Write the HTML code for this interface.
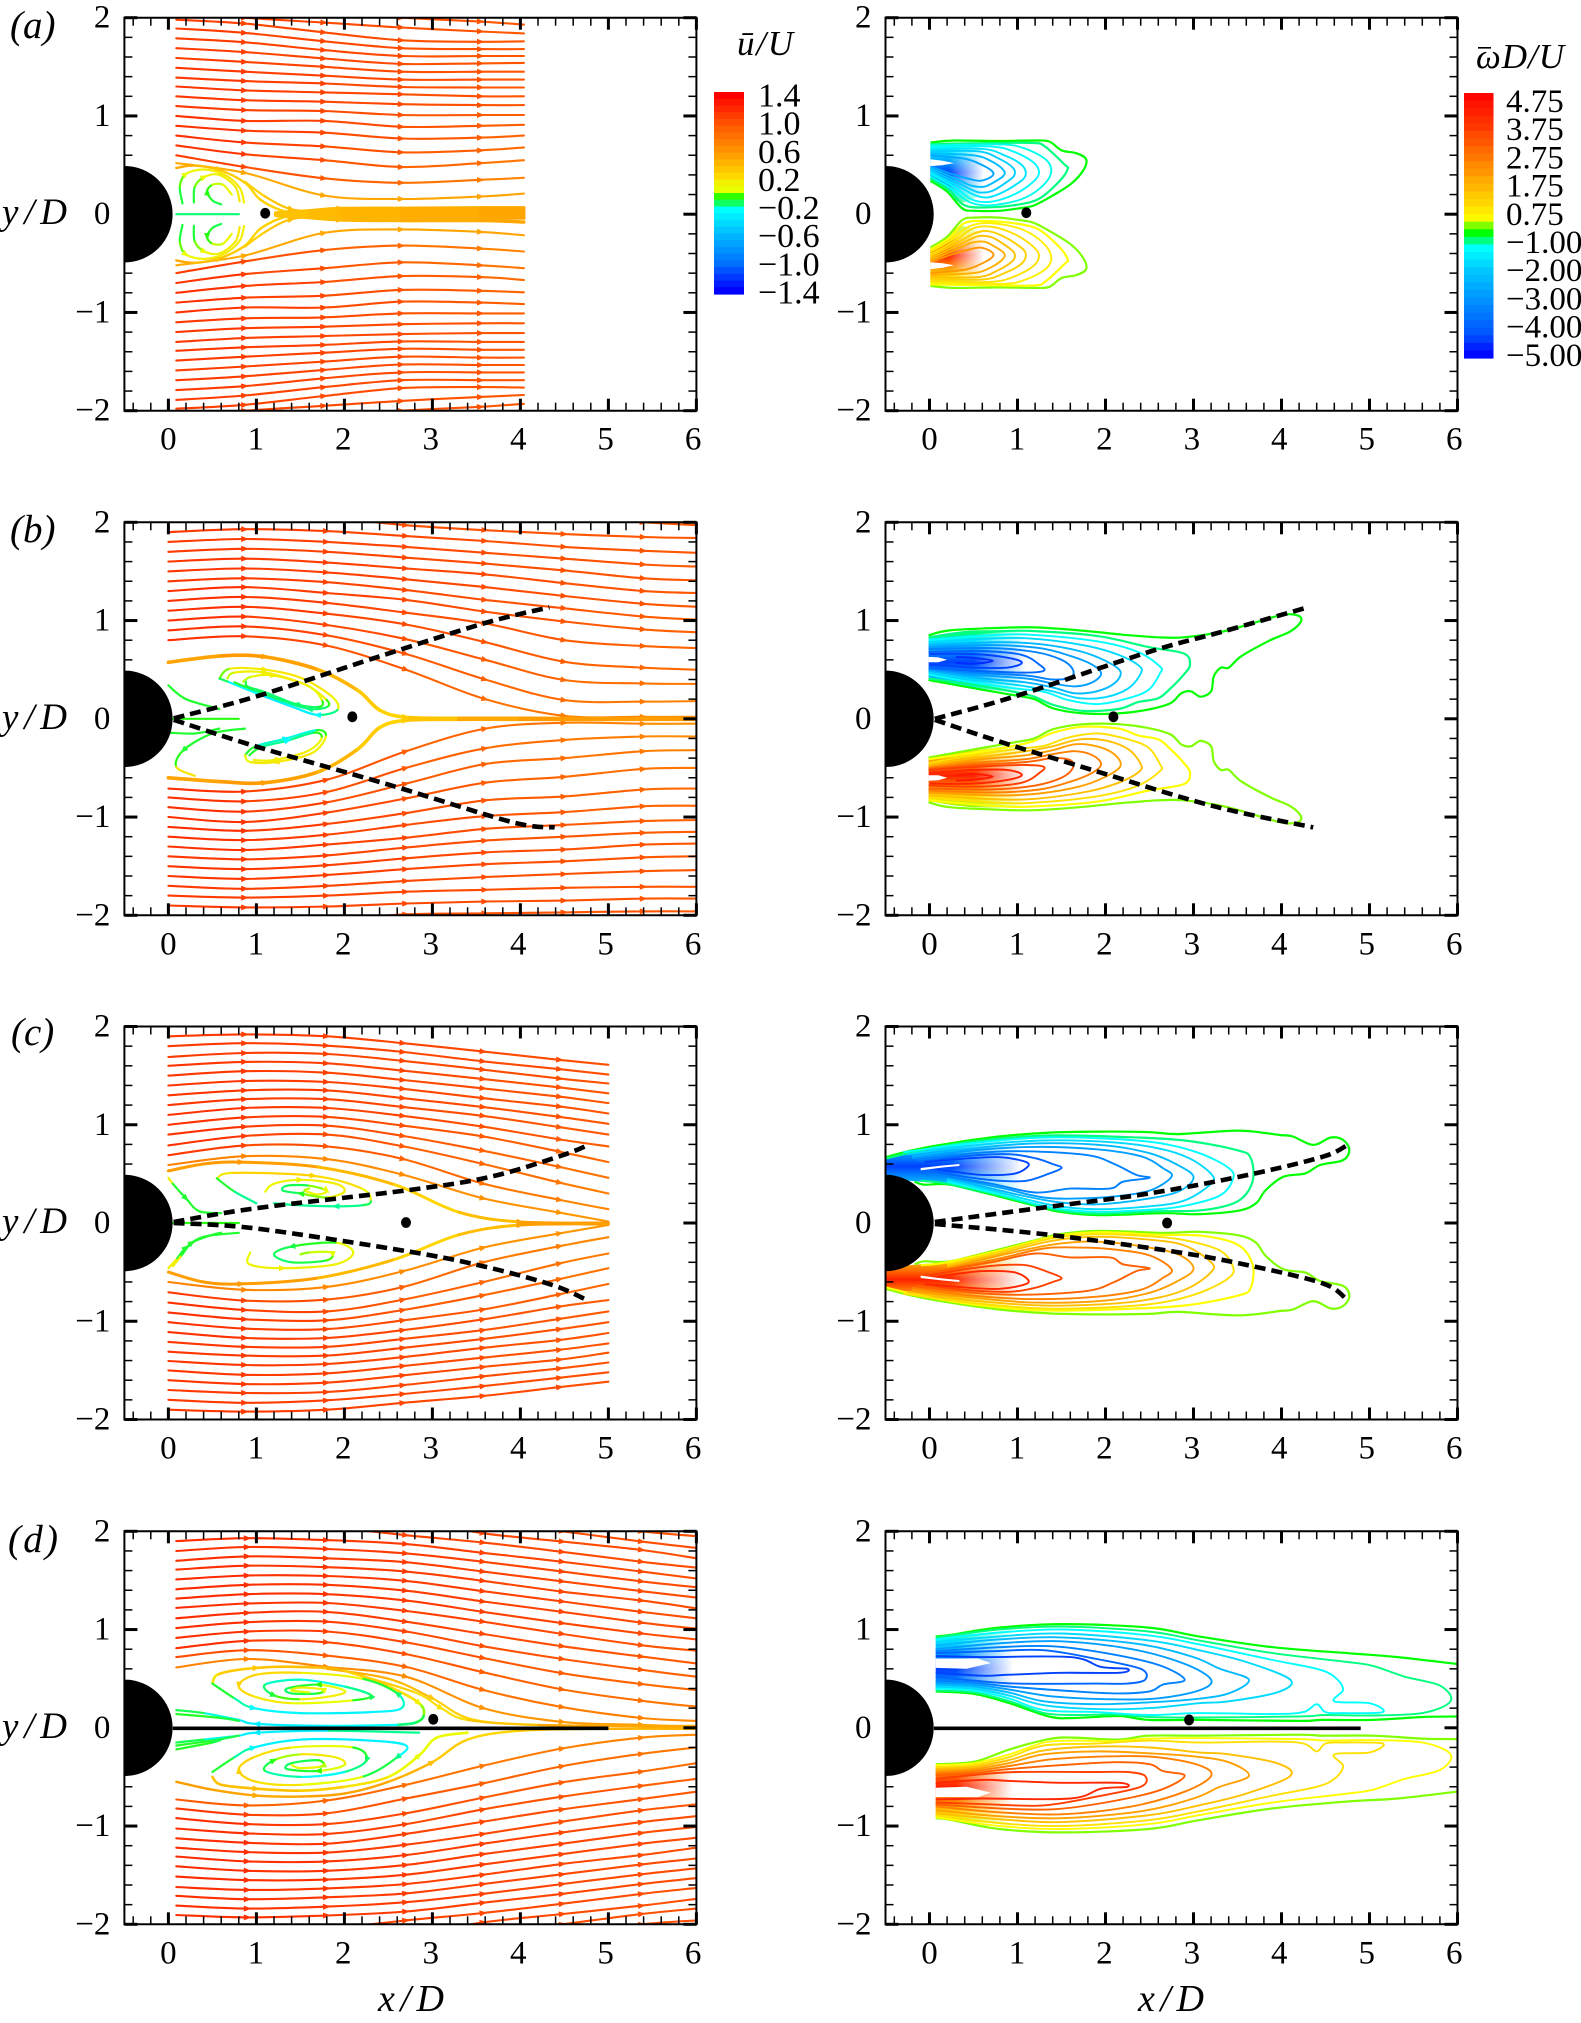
<!DOCTYPE html>
<html>
<head>
<meta charset="utf-8">
<title>Wake streamlines and vorticity contours</title>
<style>
html,body{margin:0;padding:0;background:#fff;}
svg{display:block;}
text{font-family:"Liberation Serif",serif;fill:#000;}
.it{font-style:italic;}
</style>
</head>
<body>
<svg id="fig" xmlns="http://www.w3.org/2000/svg" width="1581" height="2023" viewBox="0 0 1581 2023">
<rect x="0" y="0" width="1581" height="2023" fill="#fff"/>
<defs id="defs"></defs>
<g id="plots"></g>
<text class="it" x="10" y="38" font-size="39">(a)</text>
<text class="it" x="10" y="542" font-size="39">(b)</text>
<text class="it" x="11" y="1045" font-size="39">(c)</text>
<text class="it" x="8" y="1552" font-size="39" textLength="50" lengthAdjust="spacing">(d)</text>
<text class="it" x="2" y="224" font-size="37" textLength="65" lengthAdjust="spacing">y/D</text>
<text class="it" x="2" y="729" font-size="37" textLength="65" lengthAdjust="spacing">y/D</text>
<text class="it" x="2" y="1233" font-size="37" textLength="65" lengthAdjust="spacing">y/D</text>
<text class="it" x="2" y="1738" font-size="37" textLength="65" lengthAdjust="spacing">y/D</text>
<text class="it" x="378" y="2011" font-size="38" textLength="66" lengthAdjust="spacing">x/D</text>
<text class="it" x="1138" y="2011" font-size="38" textLength="66" lengthAdjust="spacing">x/D</text>
<text class="it" x="737" y="55" font-size="35" textLength="56" lengthAdjust="spacing">ū/U</text>
<text class="it" x="1476" y="68" font-size="35" textLength="88" lengthAdjust="spacing">ωD/U</text>
<rect x="1478" y="47" width="13" height="1.6" fill="#000"/>
</svg>
<script>
/* ---------- axis ticks and labels ---------- */
const xTickValues = [0,1,2,3,4,5,6];
const xTickLabels = ["0","1","2","3","4","5","6"];
const yTickValues = [2,1,0,-1,-2];
const yTickLabels = ["2","1","0","−1","−2"];

/* ---------- colour scales ---------- */
const uScaleValues = [1.4,1.0,0.6,0.2,0.05,0.0,-0.15,-0.2,-0.6,-1.0,-1.4];
const uScaleColors = ["#ff0000","#ff5000","#ff9000","#ffd800","#e8ff00","#30ff00","#00ff90","#00ffff","#00b4ff","#0070ff","#0000ff"];
const wScaleValues = [5,3.75,2.75,1.75,0.75,0.25,-0.25,-0.75,-1.0,-1.25,-2,-3,-4,-5];
const wScaleColors = ["#ff0000","#ff4000","#ff8000","#ffc000","#ffff00","#80ff00","#00ff00","#00ff80","#00ffe0","#00ffff","#00c8ff","#0090ff","#0058ff","#0000ff"];
const uBarLabels = ["1.4","1.0","0.6","0.2","−0.2","−0.6","−1.0","−1.4"];
const uBarLabelValues = [1.4,1.0,0.6,0.2,-0.2,-0.6,-1.0,-1.4];
const uBarBands = [1.4,1.3,1.2,1.1,1.0,0.9,0.8,0.7,0.6,0.5,0.4,0.3,0.2,0.1,0.05,0.0,-0.1,-0.2,-0.3,-0.4,-0.5,-0.6,-0.7,-0.8,-0.9,-1.0,-1.1,-1.2,-1.3,-1.4];
const wBarLabels = ["4.75","3.75","2.75","1.75","0.75","−1.00","−2.00","−3.00","−4.00","−5.00"];
const wBarBands = [4.9,4.6,4.4,4.1,3.9,3.6,3.4,3.1,2.9,2.6,2.4,2.1,1.9,1.6,1.4,1.1,0.85,0.25,-0.25,-0.75,-1.25,-1.5,-1.75,-2,-2.25,-2.5,-2.75,-3,-3.25,-3.5,-3.75,-4,-4.25,-4.6,-4.9];

/* ---------- row markers ---------- */
const saddleLeft = [[1.10,0.01],[2.09,0.02],[2.70,0.005],[3.01,0.087]];
const saddleRight = [[1.10,0.015],[2.09,0.02],[2.70,0.0],[2.95,0.08]];

/* ---------- panel a: streamlines ---------- */
const aStations = [0.09,0.87,1.77,2.65,3.55,4.04];
const aUpper = [
[2.2,2.12,2.05,2.0,1.96,1.93],[2.06,2.0,1.95,1.90,1.86,1.84],
[1.98,1.94,1.85,1.77,1.755,1.76],[1.89,1.845,1.76,1.69,1.68,1.68],[1.79,1.75,1.67,1.61,1.61,1.61],
[1.69,1.65,1.585,1.53,1.535,1.54],[1.59,1.55,1.50,1.45,1.45,1.45],[1.49,1.45,1.41,1.37,1.37,1.37],
[1.39,1.355,1.33,1.295,1.29,1.29],[1.30,1.26,1.24,1.22,1.20,1.20],[1.20,1.16,1.145,1.12,1.11,1.11],
[1.10,1.06,1.05,1.01,1.01,1.01],[1.0,0.95,0.95,0.89,0.90,0.91],[0.90,0.85,0.83,0.77,0.78,0.80],
[0.80,0.73,0.69,0.63,0.65,0.68],[0.70,0.61,0.55,0.48,0.52,0.55],[0.60,0.48,0.365,0.32,0.35,0.37],
[0.52,0.42,0.19,0.155,0.18,0.21]];
const aUpperStartU = [1.1,1.1,1.1,1.12,1.12,1.12,1.12,1.15,1.15,1.15,1.15,1.15,1.18,1.18,1.2,1.2,1.15,0.45];
const aUpperEndU = [0.95,0.95,0.95,0.95,0.95,0.95,0.95,0.95,0.95,0.95,0.95,0.9,0.88,0.85,0.8,0.72,0.62,0.5];
const aLower = [
[-2.2,-2.12,-2.05,-2.0,-1.96,-1.93],[-2.06,-2.0,-1.95,-1.90,-1.86,-1.84],
[-1.98,-1.94,-1.85,-1.77,-1.76,-1.765],[-1.89,-1.845,-1.76,-1.69,-1.69,-1.69],[-1.79,-1.75,-1.67,-1.61,-1.61,-1.61],
[-1.69,-1.65,-1.585,-1.53,-1.535,-1.535],[-1.59,-1.55,-1.50,-1.45,-1.46,-1.46],[-1.49,-1.45,-1.41,-1.37,-1.38,-1.38],
[-1.39,-1.355,-1.33,-1.295,-1.30,-1.30],[-1.30,-1.26,-1.24,-1.22,-1.21,-1.21],[-1.20,-1.16,-1.145,-1.12,-1.11,-1.11],
[-1.10,-1.06,-1.05,-1.01,-1.01,-1.01],[-1.0,-0.95,-0.95,-0.89,-0.90,-0.915],[-0.90,-0.85,-0.83,-0.77,-0.78,-0.795],
[-0.80,-0.73,-0.69,-0.63,-0.64,-0.67],[-0.70,-0.61,-0.55,-0.49,-0.52,-0.55],[-0.60,-0.48,-0.365,-0.32,-0.35,-0.38],
[-0.52,-0.42,-0.19,-0.155,-0.18,-0.215]];
const aCurves = [
[0.09,0.47,0.29,0.495,0.58,0.45,0.87,0.32,1.05,0.145,1.34,0.025,1.7,0.01],
[0.87,0.33,1.1,0.18,1.4,0.05,1.8,0.02,2.2,0.01],
[0.16,0.11,0.13,0.28,0.2,0.41,0.41,0.455,0.64,0.40,0.81,0.27,0.86,0.12],
[0.29,0.12,0.3,0.28,0.41,0.38,0.58,0.40,0.76,0.28,0.81,0.13],
[0.6,0.10,0.5,0.14,0.44,0.23,0.5,0.3,0.62,0.3,0.72,0.2],
[0.09,0.0,0.8,0.0],
[0.09,-0.47,0.29,-0.495,0.58,-0.45,0.87,-0.32,1.05,-0.145,1.34,-0.025,1.7,-0.01],
[0.87,-0.33,1.1,-0.18,1.4,-0.05,1.8,-0.02,2.2,-0.01],
[0.16,-0.11,0.13,-0.28,0.2,-0.41,0.41,-0.455,0.64,-0.40,0.81,-0.27,0.86,-0.12],
[0.29,-0.12,0.3,-0.28,0.41,-0.38,0.58,-0.40,0.76,-0.28,0.81,-0.13],
[0.6,-0.10,0.5,-0.14,0.44,-0.23,0.5,-0.3,0.62,-0.3,0.72,-0.2],
[1.22,0.012,1.6,0.035,1.95,0.058,2.65,0.06,3.55,0.065,4.04,0.065],
[1.22,0.008,1.6,0.02,1.95,0.035,2.65,0.035,3.55,0.04,4.04,0.04],
[1.22,0.004,1.6,0.006,1.95,0.01,2.65,0.01,3.55,0.01,4.04,0.01],
[1.22,-0.004,1.6,-0.008,1.95,-0.015,2.65,-0.015,3.55,-0.015,4.04,-0.015],
[1.22,-0.008,1.6,-0.02,1.95,-0.04,2.65,-0.04,3.55,-0.04,4.04,-0.04],
[1.22,-0.012,1.6,-0.035,1.95,-0.058,2.65,-0.065,3.55,-0.065,4.04,-0.08]];
const aCurveU = [[0.5,0.3,0.2,0.35],[0.2,0.35,0.5],[-0.1,0.05,0.15,0.1],[-0.1,0.1,0.15],[-0.1,0.0,0.1],[-0.12,-0.12],
[0.5,0.3,0.2,0.35],[0.2,0.35,0.5],[-0.1,0.05,0.15,0.1],[-0.1,0.1,0.15],[-0.1,0.0,0.1],
[0.3,0.5],[0.3,0.5],[0.3,0.5],[0.3,0.5],[0.3,0.5],[0.3,0.5]];
const aCurveWidths = [2.4,2.2,2.2,2.2,2.2,2.2,2.4,2.2,2.2,2.2,2.2,3.4,3.4,3.4,3.4,3.4,3.4];

/* ---------- panel b: streamlines ---------- */
const bStations = [0,0.87,1.8,2.7,3.6,4.5,5.4,6];
const bUpper = [
[2.3,2.25,2.2,2.12,2.09,2.05,2.0,1.97],[2.10,2.09,2.05,1.97,1.92,1.88,1.85,1.84],
[1.90,1.93,1.91,1.86,1.81,1.75,1.71,1.69],[1.80,1.83,1.80,1.75,1.69,1.63,1.57,1.55],
[1.70,1.73,1.70,1.64,1.58,1.51,1.43,1.41],[1.60,1.63,1.59,1.53,1.47,1.38,1.30,1.28],
[1.50,1.53,1.49,1.42,1.34,1.25,1.17,1.14],[1.40,1.43,1.39,1.31,1.21,1.125,1.04,1.01],
[1.30,1.34,1.28,1.21,1.09,0.99,0.91,0.88],[1.20,1.24,1.18,1.08,0.97,0.80,0.74,0.72],
[1.10,1.14,1.07,0.96,0.78,0.58,0.52,0.50],[1.0,1.04,0.955,0.81,0.60,0.395,0.36,0.355],
[0.90,0.94,0.85,0.66,0.40,0.19,0.175,0.18],[0.80,0.84,0.745,0.50,0.20,0.03,0.02,0.02]];
const bUpperStartU = [1.05,1.05,1.12,1.12,1.12,1.15,1.15,1.15,1.18,1.18,1.2,1.2,1.2,1.2];
const bUpperEndU = [0.95,0.95,0.95,0.95,0.95,0.95,0.95,0.9,0.88,0.85,0.8,0.72,0.66,0.55];
const bLower = [
[-2.3,-2.25,-2.2,-2.12,-2.09,-2.05,-2.02,-2.0],[-2.10,-2.09,-2.05,-1.99,-1.98,-1.97,-1.96,-1.96],
[-1.90,-1.92,-1.91,-1.88,-1.86,-1.85,-1.83,-1.83],[-1.80,-1.82,-1.80,-1.76,-1.74,-1.72,-1.71,-1.71],
[-1.70,-1.73,-1.70,-1.65,-1.61,-1.58,-1.55,-1.54],[-1.60,-1.63,-1.59,-1.53,-1.48,-1.45,-1.41,-1.40],
[-1.50,-1.53,-1.49,-1.42,-1.36,-1.33,-1.28,-1.27],[-1.40,-1.43,-1.39,-1.31,-1.24,-1.20,-1.16,-1.15],
[-1.30,-1.335,-1.28,-1.21,-1.12,-1.08,-1.04,-1.03],[-1.20,-1.235,-1.18,-1.08,-0.99,-0.95,-0.89,-0.885],
[-1.10,-1.14,-1.07,-0.96,-0.83,-0.79,-0.72,-0.71],[-1.0,-1.05,-0.955,-0.81,-0.65,-0.59,-0.51,-0.50],
[-0.90,-0.945,-0.85,-0.66,-0.46,-0.40,-0.33,-0.32],[-0.80,-0.84,-0.745,-0.50,-0.30,-0.215,-0.18,-0.18],
[-0.71,-0.74,-0.62,-0.33,-0.10,-0.04,-0.05,-0.05]];
const bLowerStartU = [1.05,1.05,1.12,1.12,1.12,1.15,1.15,1.15,1.18,1.18,1.2,1.2,1.2,1.2,1.2];
const bLowerEndU = [0.95,0.95,0.95,0.95,0.95,0.95,0.95,0.9,0.88,0.85,0.8,0.72,0.66,0.6,0.55];
const bCurves = [
[0,0.575,0.6,0.64,1.1,0.63,1.7,0.5,2.15,0.29,2.4,0.09,2.7,0.015,3.3,0.005,4,0.005,6,0.0],
[0,-0.6,0.6,-0.64,1.1,-0.65,1.7,-0.54,2.15,-0.31,2.4,-0.09,2.7,-0.015,3.3,-0.005,4,-0.005,6,-0.005],
[0.58,0.41,0.70,0.51,1.10,0.50,1.51,0.415,1.86,0.225,1.92,0.09,1.69,0.04,1.4,0.125,1.0,0.26,0.67,0.38,0.58,0.41],
[0.67,0.41,0.75,0.47,1.10,0.47,1.55,0.35,1.80,0.19,1.8,0.12,1.6,0.10,1.3,0.18,0.95,0.30,0.75,0.37],
[0.85,0.38,0.95,0.43,1.2,0.44,1.6,0.33,1.75,0.18,1.7,0.12,1.45,0.15,1.1,0.27,0.9,0.33,0.88,0.38],
[0.87,-0.37,0.99,-0.28,1.34,-0.2,1.69,-0.115,1.79,-0.18,1.63,-0.35,1.22,-0.44,0.93,-0.44,0.87,-0.37],
[0.92,-0.37,1.05,-0.29,1.36,-0.22,1.66,-0.14,1.74,-0.2,1.58,-0.33,1.2,-0.42,0.97,-0.42],
[0,0.34,0.2,0.2,0.58,0.1],[0,-0.14,0.3,-0.15,0.58,-0.1],
[0.87,-0.10,0.5,-0.15,0.17,-0.32,0.09,-0.49,0.3,-0.58],
[0.05,0.0,0.8,0.0]];
const bCurveU = [[0.45,0.55,0.5,0.35,0.2,0.3,0.5,0.55],[0.45,0.55,0.5,0.35,0.2,0.3,0.5,0.55],
[-0.05,0.1,0.15,0.15,0.1,-0.15,-0.3,-0.3,-0.15,-0.05],[0,0.1,0.12,0.1,-0.1,-0.15,-0.1,0],[0,0.1,0.12,0.05,-0.1,-0.12,-0.1,-0.05],
[0,-0.1,-0.25,-0.12,0.05,0.15,0.15,0.12,0],[0,-0.1,-0.2,-0.08,0.05,0.12,0.12,0.1],
[-0.05,-0.05],[-0.05,-0.05],[-0.05,-0.05,-0.05,0.0,0.3],[-0.02,-0.02]];
const bCurveWidths = [3.6,3.6,2.2,2.2,2.2,2.2,2.2,2.2,2.2,2.2,2.2];
const bDashUpper = [0.06,0.005,0.99,0.225,2.38,0.63,3.6,0.975,4.33,1.135];
const bDashLower = [0.06,-0.01,0.99,-0.28,2.5,-0.67,3.9,-1.05,4.39,-1.105];

/* ---------- panel c: streamlines ---------- */
const cStations = [0,0.87,1.8,2.67,3.58,4.45,5];
const cUpper = [
[1.90,1.92,1.90,1.83,1.745,1.66,1.61],[1.80,1.83,1.805,1.74,1.645,1.565,1.51],[1.69,1.73,1.72,1.65,1.56,1.47,1.42],
[1.60,1.64,1.625,1.55,1.465,1.38,1.32],[1.50,1.545,1.53,1.455,1.37,1.285,1.22],[1.40,1.445,1.435,1.365,1.27,1.185,1.115],
[1.30,1.35,1.35,1.27,1.18,1.08,1.01],[1.20,1.26,1.26,1.18,1.09,0.975,0.90],[1.10,1.17,1.17,1.09,0.98,0.85,0.78],
[1.0,1.075,1.08,0.99,0.88,0.725,0.62],[0.90,0.98,0.99,0.885,0.735,0.57,0.46],[0.79,0.885,0.90,0.78,0.60,0.41,0.30],
[0.69,0.79,0.78,0.65,0.40,0.235,0.14],[0.59,0.68,0.65,0.49,0.25,0.105,0.015]];
const cUpperStartU = [1.12,1.12,1.12,1.15,1.15,1.15,1.15,1.15,1.18,1.18,1.2,1.2,1.15,0.7];
const cUpperEndU = [1,1,0.98,0.95,0.95,0.95,0.95,0.92,0.9,0.82,0.75,0.68,0.62,0.55];
const cLower = [
[-1.90,-1.92,-1.90,-1.83,-1.76,-1.67,-1.615],[-1.80,-1.83,-1.805,-1.74,-1.66,-1.575,-1.52],[-1.70,-1.73,-1.72,-1.65,-1.56,-1.48,-1.42],
[-1.60,-1.64,-1.625,-1.55,-1.465,-1.39,-1.32],[-1.50,-1.545,-1.53,-1.455,-1.37,-1.29,-1.225],[-1.405,-1.445,-1.435,-1.365,-1.27,-1.19,-1.12],
[-1.31,-1.35,-1.35,-1.27,-1.18,-1.08,-1.01],[-1.21,-1.26,-1.26,-1.18,-1.09,-0.975,-0.90],[-1.11,-1.17,-1.17,-1.09,-0.98,-0.85,-0.785],
[-1.01,-1.075,-1.08,-0.99,-0.88,-0.725,-0.62],[-0.91,-0.98,-0.99,-0.885,-0.735,-0.57,-0.46],[-0.81,-0.885,-0.90,-0.78,-0.60,-0.41,-0.31],
[-0.705,-0.79,-0.78,-0.65,-0.40,-0.235,-0.145],[-0.60,-0.68,-0.65,-0.49,-0.25,-0.105,-0.02]];
const cCurves = [
[0,0.53,0.4,0.6,0.83,0.62,1.7,0.57,2.57,0.39,3.3,0.11,4.0,0.01,5,0.0],
[0,-0.5,0.4,-0.6,0.83,-0.62,1.7,-0.56,2.57,-0.37,3.3,-0.12,4.0,-0.02,5,-0.01],
[0.55,0.455,0.74,0.51,1.65,0.48,2.2,0.35,2.3,0.22,2.2,0.18,1.9,0.17,1.5,0.18,1.2,0.2],
[0.55,0.455,0.75,0.32,1.0,0.2],
[1.1,0.32,1.2,0.40,1.5,0.44,1.9,0.40,2.0,0.32,1.8,0.26,1.5,0.3,1.3,0.33,1.35,0.38,1.6,0.38,1.8,0.33,1.7,0.29,1.55,0.33,1.6,0.35],
[0,0.46,0.05,0.4,0.2,0.25,0.35,0.12,0.6,0.10],
[0,-0.46,0.1,-0.36,0.2,-0.25,0.4,-0.14,0.8,-0.1],
[0.05,-0.44,0.15,-0.33,0.27,-0.2,0.5,-0.12,0.6,-0.1],
[0.93,-0.30,0.92,-0.42,1.3,-0.46,1.9,-0.42,2.1,-0.3,1.9,-0.2,1.4,-0.24,1.2,-0.32,1.4,-0.40,1.8,-0.38,1.85,-0.3,1.6,-0.3,1.5,-0.32],
[0.05,0.0,0.8,0.0]];
const cCurveU = [[0.5,0.55,0.55,0.5,0.25,0.2,0.5,0.55],[0.5,0.55,0.55,0.5,0.25,0.2,0.5,0.55],
[0.05,0.25,0.2,0.1,-0.1,-0.15,-0.15,-0.15],[0,-0.1,-0.2],[0.05,0.1,0.12,0.1,-0.1,-0.12,0.05,0.08,0.02],
[0.2,-0.05,-0.05,-0.05],[0.2,-0.05,-0.05,-0.05],[0.2,-0.05,-0.05,-0.05],[0.05,0.12,0.1,-0.08,-0.12,0.05,0.02],[-0.02,-0.02]];
const cCurveWidths = [3,3,2.2,2.2,2.2,2.2,2.2,2.2,2.2,2.2];
const cDashUpper = [0.06,0.01,0.99,0.15,2.73,0.335,3.66,0.47,4.48,0.69,4.77,0.795];
const cDashLower = [0.06,0.0,0.99,-0.055,2.73,-0.29,3.6,-0.445,4.36,-0.63,4.74,-0.777];

/* ---------- panel d: streamlines ---------- */
const dStations = [0.09,0.9,1.8,2.7,3.58,4.48,5.38,6];
const dUpper = [
[2.5,2.45,2.4,2.3,2.2,2.1,2.0,1.95],[2.4,2.35,2.3,2.2,2.1,2.0,1.895,1.83],[2.3,2.25,2.2,2.12,1.98,1.895,1.81,1.725],[2.2,2.15,2.05,1.96,1.885,1.79,1.69,1.63],
[1.90,1.93,1.91,1.87,1.78,1.69,1.59,1.52],[1.80,1.84,1.82,1.775,1.69,1.59,1.49,1.43],[1.70,1.745,1.725,1.685,1.59,1.49,1.39,1.325],
[1.61,1.65,1.635,1.59,1.495,1.385,1.295,1.215],[1.51,1.55,1.545,1.495,1.39,1.285,1.18,1.115],[1.41,1.455,1.455,1.395,1.285,1.18,1.07,1.01],
[1.315,1.36,1.36,1.295,1.18,1.065,0.96,0.90],[1.22,1.265,1.27,1.19,1.08,0.955,0.84,0.785],[1.115,1.17,1.18,1.08,0.955,0.83,0.725,0.655],
[1.015,1.075,1.08,0.98,0.83,0.70,0.59,0.52],[0.915,0.98,0.98,0.87,0.71,0.555,0.445,0.385],[0.81,0.885,0.87,0.75,0.565,0.39,0.275,0.215],
[0.72,0.79,0.735,0.62,0.385,0.21,0.1,0.07],[0.615,0.70,0.62,0.52,0.2,0.06,0.03,0.01]];
const dUpperStartU = [1.05,1.05,1.12,1.12,1.18,1.18,1.18,1.18,1.2,1.2,1.2,1.2,1.2,1.2,1.2,1.2,1.05,0.7];
const dUpperEndU = [1,1,1,1,1,1,1,1,1,1,1,0.95,0.92,0.88,0.8,0.72,0.62,0.5];
const dLower = [
[-2.5,-2.45,-2.4,-2.3,-2.2,-2.1,-2.0,-1.96],[-2.4,-2.35,-2.3,-2.2,-2.1,-2.0,-1.895,-1.84],[-2.3,-2.25,-2.2,-2.12,-1.98,-1.895,-1.81,-1.74],[-2.2,-2.15,-2.05,-1.96,-1.885,-1.79,-1.69,-1.63],
[-1.905,-1.93,-1.91,-1.87,-1.78,-1.69,-1.59,-1.53],[-1.81,-1.84,-1.82,-1.775,-1.69,-1.59,-1.49,-1.43],[-1.71,-1.745,-1.725,-1.685,-1.59,-1.49,-1.39,-1.33],
[-1.62,-1.65,-1.635,-1.59,-1.495,-1.385,-1.295,-1.22],[-1.515,-1.55,-1.545,-1.495,-1.39,-1.285,-1.18,-1.12],[-1.41,-1.455,-1.455,-1.395,-1.285,-1.18,-1.07,-1.01],
[-1.31,-1.36,-1.36,-1.295,-1.18,-1.065,-0.96,-0.90],[-1.22,-1.265,-1.27,-1.19,-1.08,-0.955,-0.84,-0.78],[-1.125,-1.17,-1.18,-1.08,-0.955,-0.83,-0.725,-0.65],
[-1.025,-1.075,-1.08,-0.98,-0.83,-0.70,-0.59,-0.52],[-0.92,-0.98,-0.98,-0.87,-0.71,-0.555,-0.445,-0.36],[-0.82,-0.885,-0.87,-0.72,-0.565,-0.39,-0.265,-0.20],
[-0.73,-0.79,-0.74,-0.58,-0.385,-0.21,-0.1,-0.07]];
const dLowerStartU = [1.05,1.05,1.12,1.12,1.18,1.18,1.18,1.18,1.2,1.2,1.2,1.2,1.2,1.2,1.2,1.15,0.95];
const dLowerEndU = [1,1,1,1,1,1,1,1,1,1,1,0.95,0.92,0.88,0.8,0.72,0.62];
const dCurves = [
[0.5,0.45,0.58,0.55,1.0,0.61,1.5,0.62,2.0,0.58,2.5,0.42,2.85,0.25,2.9,0.12,2.8,0.05,2.6,0.03],
[2.6,0.03,1.8,0.02,1.0,0.04,0.8,0.08,0.4,0.15,0.09,0.18],
[0.5,0.45,0.75,0.3,0.97,0.2,1.5,0.15,2.3,0.16,2.65,0.2,2.6,0.35,2.2,0.5,1.5,0.56,1,0.54,0.8,0.43,0.97,0.32,1.4,0.25,2.1,0.28,2.3,0.33,2.0,0.42,1.5,0.49,1.1,0.44,1.2,0.33,1.5,0.29,1.9,0.33,2,0.38,1.7,0.44,1.35,0.4,1.4,0.35,1.7,0.35,1.75,0.39,1.5,0.41,1.4,0.38,1.6,0.36],
[0.09,0.14,0.6,0.10,0.8,0.07],
[1.8,0.6,2.5,0.5,3.0,0.3,3.4,0.1,4.0,0.035,5,0.02,6,0.02],
[2.0,0.58,2.8,0.36,3.1,0.2,3.4,0.08,4.2,0.03,6,0.01],
[0.09,-0.55,0.5,-0.63,1,-0.69,1.5,-0.7,2,-0.67,2.5,-0.55,3,-0.35,3.4,-0.12,4,-0.03,5,-0.01,6,-0.01],
[0.5,-0.5,0.6,-0.58,1,-0.62,1.5,-0.64,2,-0.6,2.5,-0.5,2.85,-0.28,3.05,-0.1,3.4,-0.05],
[2.85,-0.05,1.8,-0.03,1.0,-0.05,0.8,-0.08,0.4,-0.12,0.09,-0.15],
[0.5,-0.45,0.75,-0.3,0.97,-0.2,1.5,-0.12,2.3,-0.13,2.7,-0.18,2.6,-0.3,2.2,-0.5,1.5,-0.58,1,-0.55,0.8,-0.43,0.97,-0.3,1.4,-0.2,2.1,-0.2,2.25,-0.33,2.0,-0.45,1.5,-0.5,1.1,-0.44,1.2,-0.33,1.5,-0.27,1.9,-0.3,2,-0.38,1.7,-0.44,1.35,-0.42,1.4,-0.36,1.7,-0.33,1.75,-0.39,1.5,-0.41,1.4,-0.38],
[0.09,-0.18,0.5,-0.13,0.8,-0.08],[0.09,-0.22,0.5,-0.15,0.6,-0.12]];
const dCurveU = [[0.05,0.25,0.3,0.35,0.35,0.25,0.1,-0.05,-0.1,-0.15],[-0.15,-0.25,-0.3,-0.25,-0.12,-0.05],
[0,-0.15,-0.25,-0.28,-0.2,-0.05,0.15,0.25,0.2,0.1,0,-0.15,-0.2,-0.15,0,0.15,0.1,-0.05,-0.12,-0.05,0.1,0.12,0],
[-0.03,-0.05,-0.1],[0.45,0.4,0.25,0.2,0.3,0.5],[0.3,0.2,0.15,0.2,0.4,0.55],
[0.55,0.5,0.45,0.5,0.5,0.4,0.25,0.2,0.3,0.5],[0.3,0.35,0.35,0.3,0.2,0.1,0.05,0.05,0.1],[-0.05,-0.25,-0.3,-0.25,-0.12,-0.05],
[0,-0.15,-0.3,-0.28,-0.2,0,0.15,0.25,0.2,0.05,-0.1,-0.2,-0.15,0,0.15,0.1,-0.05,-0.12,-0.05,0.1,0.02],
[-0.03,-0.05,-0.1],[-0.03,-0.05,-0.1]];
const dCurveWidths = [2.6,2.2,2.2,2.2,2.2,2.2,2.4,2.6,2.2,2.2,2.2,2.2];
const dPlateLeft = [0.05,-0.005,5,-0.005];
const dPlateRight = [0.05,-0.005,4.9,-0.005];

/* ---------- contour levels ---------- */
const negLevels = [-0.25,-0.75,-1.25,-1.75,-2.25,-2.75,-3.25,-3.75,-4.25,-4.5];
const posLevels = [0.25,0.75,1.25,1.75,2.25,2.75,3.25,3.75,4.25,4.5];
const aNegLevels = [-0.25,-0.75,-1.1,-1.3,-1.6,-1.9,-2.2,-2.6];
const aPosLevels = [0.25,0.75,1.0,1.25,1.5,1.75,2.0,2.4];

/* ---------- panel a: vorticity ---------- */
const aVortUpper = [
[0.01,0.73,0.28,0.75,0.79,0.745,1.19,0.75,1.36,0.74,1.50,0.65,1.67,0.62,1.78,0.56,1.75,0.45,1.61,0.31,1.41,0.195,1.19,0.09,1.02,0.06,0.79,0.035,0.51,0.035,0.37,0.06,0.20,0.23,0.01,0.34],
[0.01,0.715,0.8,0.725,1.19,0.725,1.31,0.69,1.53,0.51,1.57,0.46,1.47,0.33,1.25,0.16,1.02,0.10,0.68,0.07,0.40,0.09,0.23,0.24,0.01,0.36],
[0.01,0.70,0.8,0.71,1.08,0.67,1.33,0.55,1.38,0.415,1.25,0.26,1.02,0.145,0.68,0.09,0.45,0.125,0.25,0.26,0.01,0.385],
[0.01,0.68,0.68,0.69,0.96,0.635,1.19,0.52,1.24,0.40,1.11,0.28,0.91,0.18,0.68,0.125,0.48,0.15,0.28,0.28,0.01,0.41],
[0.01,0.66,0.6,0.665,0.85,0.60,1.05,0.50,1.09,0.39,0.98,0.30,0.8,0.21,0.65,0.17,0.5,0.20,0.3,0.30,0.01,0.43],
[0.01,0.64,0.55,0.64,0.78,0.57,0.95,0.47,0.96,0.39,0.85,0.31,0.72,0.24,0.6,0.22,0.5,0.24,0.3,0.33,0.01,0.45],
[0.01,0.62,0.5,0.6,0.7,0.54,0.84,0.45,0.84,0.39,0.72,0.32,0.62,0.28,0.48,0.29,0.3,0.36,0.01,0.47],
[0.01,0.60,0.4,0.565,0.6,0.5,0.72,0.43,0.7,0.38,0.58,0.34,0.45,0.36,0.25,0.41,0.01,0.49]];
const aVortLower = [
[0.01,-0.73,0.28,-0.75,0.79,-0.745,1.19,-0.75,1.36,-0.74,1.50,-0.65,1.67,-0.62,1.78,-0.56,1.75,-0.45,1.61,-0.31,1.41,-0.195,1.19,-0.09,1.02,-0.06,0.79,-0.035,0.51,-0.035,0.37,-0.06,0.20,-0.23,0.01,-0.34],
[0.01,-0.715,0.8,-0.725,1.19,-0.725,1.31,-0.69,1.53,-0.51,1.57,-0.46,1.47,-0.33,1.25,-0.16,1.02,-0.10,0.68,-0.07,0.40,-0.09,0.23,-0.24,0.01,-0.36],
[0.01,-0.70,0.8,-0.71,1.08,-0.67,1.33,-0.55,1.38,-0.415,1.25,-0.26,1.02,-0.145,0.68,-0.09,0.45,-0.125,0.25,-0.26,0.01,-0.385],
[0.01,-0.68,0.68,-0.69,0.96,-0.635,1.19,-0.52,1.24,-0.40,1.11,-0.28,0.91,-0.18,0.68,-0.125,0.48,-0.15,0.28,-0.28,0.01,-0.41],
[0.01,-0.66,0.6,-0.665,0.85,-0.60,1.05,-0.50,1.09,-0.39,0.98,-0.30,0.8,-0.21,0.65,-0.17,0.5,-0.20,0.3,-0.30,0.01,-0.43],
[0.01,-0.64,0.55,-0.64,0.78,-0.57,0.95,-0.47,0.96,-0.39,0.85,-0.31,0.72,-0.24,0.6,-0.22,0.5,-0.24,0.3,-0.33,0.01,-0.45],
[0.01,-0.62,0.5,-0.6,0.7,-0.54,0.84,-0.45,0.84,-0.39,0.72,-0.32,0.62,-0.28,0.48,-0.29,0.3,-0.36,0.01,-0.47],
[0.01,-0.60,0.4,-0.565,0.6,-0.5,0.72,-0.43,0.7,-0.38,0.58,-0.34,0.45,-0.36,0.25,-0.41,0.01,-0.49]];
const aWedgeUpper = [0.01,0.72,0.4,0.72,0.8,0.68,0.85,0.35,0.6,0.2,0.35,0.12,0.2,0.25,0.01,0.35];
const aSlitUpper = [0.01,0.56,0.15,0.545,0.28,0.52,0.15,0.5,0.01,0.49];

/* ---------- panel b: vorticity ---------- */
const bVortUpper = [
[-0.01,0.85,0.23,0.90,0.79,0.925,1.19,0.93,1.7,0.90,2.21,0.855,2.6,0.83,2.89,0.83,3.34,0.89,3.74,0.99,4.02,1.06,4.19,1.05,4.22,0.99,4.1,0.89,3.85,0.79,3.54,0.635,3.4,0.52,3.31,0.52,3.23,0.43,3.2,0.28,3.08,0.225,2.97,0.28,2.86,0.26,2.74,0.16,2.49,0.095,2.15,0.055,1.75,0.055,1.41,0.105,1.19,0.20,0.96,0.24,0.51,0.31,-0.01,0.395],
[-0.01,0.83,0.79,0.89,1.25,0.89,1.93,0.84,2.49,0.73,2.89,0.665,2.96,0.55,2.89,0.45,2.74,0.31,2.6,0.21,2.37,0.17,2.15,0.10,1.75,0.08,1.41,0.14,1.19,0.225,0.96,0.275,0.51,0.345,-0.01,0.41],
[-0.01,0.80,0.79,0.855,1.25,0.85,1.93,0.785,2.37,0.68,2.62,0.53,2.62,0.465,2.49,0.295,2.26,0.21,1.92,0.15,1.58,0.19,1.3,0.275,0.96,0.31,0.5,0.37,-0.01,0.45],
[-0.01,0.78,0.79,0.82,1.25,0.81,1.8,0.74,2.15,0.65,2.38,0.54,2.4,0.46,2.26,0.31,2.0,0.22,1.7,0.21,1.4,0.28,1.1,0.33,0.5,0.40,-0.01,0.47],
[-0.01,0.75,0.79,0.78,1.25,0.76,1.7,0.69,2.0,0.59,2.17,0.48,2.1,0.36,1.9,0.28,1.65,0.26,1.4,0.32,1.1,0.37,0.5,0.42,-0.01,0.49],
[-0.01,0.73,0.7,0.75,1.25,0.72,1.6,0.64,1.85,0.55,1.95,0.46,1.85,0.37,1.65,0.33,1.4,0.36,1.1,0.41,0.5,0.45,-0.01,0.50],
[-0.01,0.71,0.7,0.72,1.2,0.68,1.5,0.6,1.63,0.5,1.6,0.42,1.4,0.40,1.1,0.44,0.5,0.47,-0.01,0.51],
[-0.01,0.68,0.6,0.69,1.05,0.65,1.25,0.55,1.3,0.49,1.1,0.47,0.7,0.48,0.3,0.5,-0.01,0.52],
[0,0.66,0.5,0.66,0.9,0.62,1.05,0.57,0.88,0.52,0.5,0.52,0.2,0.54,0,0.55],
[0.3,0.63,0.5,0.62,0.72,0.59,0.5,0.56,0.3,0.57]];
const bVortLower = [
[-0.01,-0.85,0.23,-0.90,0.79,-0.925,1.19,-0.93,1.7,-0.90,2.21,-0.855,2.6,-0.83,2.89,-0.83,3.34,-0.89,3.74,-0.99,4.02,-1.06,4.19,-1.05,4.22,-0.99,4.1,-0.89,3.85,-0.79,3.54,-0.635,3.4,-0.52,3.31,-0.52,3.23,-0.43,3.2,-0.28,3.08,-0.225,2.97,-0.28,2.86,-0.26,2.74,-0.16,2.49,-0.095,2.15,-0.055,1.75,-0.055,1.41,-0.105,1.19,-0.20,0.96,-0.24,0.51,-0.31,-0.01,-0.395],
[-0.01,-0.83,0.79,-0.89,1.25,-0.89,1.93,-0.84,2.49,-0.73,2.89,-0.665,2.96,-0.55,2.89,-0.45,2.74,-0.31,2.6,-0.21,2.37,-0.17,2.15,-0.10,1.75,-0.08,1.41,-0.14,1.19,-0.225,0.96,-0.275,0.51,-0.345,-0.01,-0.41],
[-0.01,-0.80,0.79,-0.855,1.25,-0.85,1.93,-0.785,2.37,-0.68,2.62,-0.53,2.62,-0.465,2.49,-0.295,2.26,-0.21,1.92,-0.15,1.58,-0.19,1.3,-0.275,0.96,-0.31,0.5,-0.37,-0.01,-0.45],
[-0.01,-0.78,0.79,-0.82,1.25,-0.81,1.8,-0.74,2.15,-0.65,2.38,-0.54,2.4,-0.46,2.26,-0.31,2.0,-0.22,1.7,-0.21,1.4,-0.28,1.1,-0.33,0.5,-0.40,-0.01,-0.47],
[-0.01,-0.75,0.79,-0.78,1.25,-0.76,1.7,-0.69,2.0,-0.59,2.17,-0.48,2.1,-0.36,1.9,-0.28,1.65,-0.26,1.4,-0.32,1.1,-0.37,0.5,-0.42,-0.01,-0.49],
[-0.01,-0.73,0.7,-0.75,1.25,-0.72,1.6,-0.64,1.85,-0.55,1.95,-0.46,1.85,-0.37,1.65,-0.33,1.4,-0.36,1.1,-0.41,0.5,-0.45,-0.01,-0.50],
[-0.01,-0.71,0.7,-0.72,1.2,-0.68,1.5,-0.6,1.63,-0.5,1.6,-0.42,1.4,-0.40,1.1,-0.44,0.5,-0.47,-0.01,-0.51],
[-0.01,-0.68,0.6,-0.69,1.05,-0.65,1.25,-0.55,1.3,-0.49,1.1,-0.47,0.7,-0.48,0.3,-0.5,-0.01,-0.52],
[0,-0.66,0.5,-0.66,0.9,-0.62,1.05,-0.57,0.88,-0.52,0.5,-0.52,0.2,-0.54,0,-0.55],
[0.3,-0.63,0.5,-0.62,0.72,-0.59,0.5,-0.56,0.3,-0.57]];
const bWedgeUpper = [-0.01,0.84,0.5,0.9,1.2,0.89,1.5,0.8,1.4,0.3,1.0,0.27,0.5,0.32,-0.01,0.40];
const bSlitUpper = [-0.01,0.63,0.1,0.625,0.2,0.60,0.1,0.575,-0.01,0.575];
const bDashRightUpper = [0.06,0.0,0.96,0.225,2.49,0.68,3.34,0.89,4.3,1.135];
const bDashRightLower = [0.06,-0.01,0.79,-0.23,1.92,-0.54,3.23,-0.89,4.36,-1.105];

/* ---------- panel c: vorticity ---------- */
const cVortUpper = [
[-0.5,0.67,-0.17,0.745,0.23,0.81,0.79,0.88,1.36,0.92,1.92,0.93,2.49,0.925,2.83,0.905,3.51,0.94,3.99,0.895,4.13,0.88,4.36,0.795,4.56,0.87,4.7,0.845,4.77,0.745,4.7,0.64,4.44,0.59,4.27,0.505,4.02,0.47,3.82,0.335,3.71,0.20,3.51,0.125,3.06,0.09,2.66,0.10,1.92,0.08,1.47,0.115,1.25,0.165,0.79,0.27,0.23,0.39,-0.06,0.39,-0.17,0.42],
[-0.5,0.655,-0.1,0.74,0.5,0.83,1.3,0.89,2.2,0.875,2.9,0.84,3.5,0.74,3.65,0.66,3.67,0.42,3.5,0.22,3.1,0.13,2.6,0.12,1.9,0.095,1.4,0.14,0.8,0.28,0.2,0.40,-0.1,0.43],
[-0.3,0.72,0.5,0.815,1.3,0.87,2.2,0.85,2.7,0.80,3.1,0.70,3.4,0.56,3.45,0.45,3.3,0.28,2.9,0.175,2.5,0.135,1.9,0.115,1.4,0.155,0.8,0.29,0.2,0.42],
[-0.25,0.70,0.5,0.79,1.3,0.84,2.1,0.82,2.6,0.76,2.95,0.66,3.2,0.50,3.2,0.40,2.9,0.23,2.5,0.17,1.9,0.14,1.4,0.18,0.8,0.31,0.2,0.44],
[-0.2,0.68,0.5,0.76,1.2,0.81,2.0,0.79,2.5,0.71,2.8,0.60,3.0,0.47,2.85,0.33,2.5,0.25,1.9,0.19,1.4,0.22,0.8,0.33,0.2,0.46],
[-0.2,0.66,0.5,0.74,1.2,0.775,1.9,0.75,2.4,0.68,2.65,0.56,2.75,0.47,2.5,0.33,2.1,0.27,1.7,0.25,1.3,0.26,0.8,0.36,0.2,0.47],
[-0.15,0.64,0.5,0.71,1.1,0.73,1.8,0.69,2.1,0.60,2.35,0.49,2.5,0.46,2.2,0.42,2.05,0.35,1.6,0.35,1.2,0.31,0.7,0.40,0.1,0.49],
[-0.1,0.62,0.4,0.68,0.9,0.70,1.2,0.66,1.4,0.60,1.5,0.56,1.35,0.50,1.1,0.43,0.8,0.43,0.4,0.47,-0.05,0.54],
[-0.05,0.62,0.4,0.655,0.8,0.67,1.1,0.62,1.1,0.56,0.95,0.50,0.6,0.49,0.3,0.52,0,0.56]];
const cVortLower = [
[-0.5,-0.67,-0.17,-0.745,0.23,-0.81,0.79,-0.88,1.36,-0.92,1.92,-0.93,2.49,-0.925,2.83,-0.905,3.51,-0.94,3.99,-0.895,4.13,-0.88,4.36,-0.795,4.56,-0.87,4.7,-0.845,4.77,-0.745,4.7,-0.64,4.44,-0.59,4.27,-0.505,4.02,-0.47,3.82,-0.335,3.71,-0.20,3.51,-0.125,3.06,-0.09,2.66,-0.10,1.92,-0.08,1.47,-0.115,1.25,-0.165,0.79,-0.27,0.23,-0.39,-0.06,-0.39,-0.17,-0.42],
[-0.5,-0.655,-0.1,-0.74,0.5,-0.83,1.3,-0.89,2.2,-0.875,2.9,-0.84,3.5,-0.74,3.65,-0.66,3.67,-0.42,3.5,-0.22,3.1,-0.13,2.6,-0.12,1.9,-0.095,1.4,-0.14,0.8,-0.28,0.2,-0.40,-0.1,-0.43],
[-0.3,-0.72,0.5,-0.815,1.3,-0.87,2.2,-0.85,2.7,-0.80,3.1,-0.70,3.4,-0.56,3.45,-0.45,3.3,-0.28,2.9,-0.175,2.5,-0.135,1.9,-0.115,1.4,-0.155,0.8,-0.29,0.2,-0.42],
[-0.25,-0.70,0.5,-0.79,1.3,-0.84,2.1,-0.82,2.6,-0.76,2.95,-0.66,3.2,-0.50,3.2,-0.40,2.9,-0.23,2.5,-0.17,1.9,-0.14,1.4,-0.18,0.8,-0.31,0.2,-0.44],
[-0.2,-0.68,0.5,-0.76,1.2,-0.81,2.0,-0.79,2.5,-0.71,2.8,-0.60,3.0,-0.47,2.85,-0.33,2.5,-0.25,1.9,-0.19,1.4,-0.22,0.8,-0.33,0.2,-0.46],
[-0.2,-0.66,0.5,-0.74,1.2,-0.775,1.9,-0.75,2.4,-0.68,2.65,-0.56,2.75,-0.47,2.5,-0.33,2.1,-0.27,1.7,-0.25,1.3,-0.26,0.8,-0.36,0.2,-0.47],
[-0.15,-0.64,0.5,-0.71,1.1,-0.73,1.8,-0.69,2.1,-0.60,2.35,-0.49,2.5,-0.46,2.2,-0.42,2.05,-0.35,1.6,-0.35,1.2,-0.31,0.7,-0.40,0.1,-0.49],
[-0.1,-0.62,0.4,-0.68,0.9,-0.70,1.2,-0.66,1.4,-0.60,1.5,-0.56,1.35,-0.50,1.1,-0.43,0.8,-0.43,0.4,-0.47,-0.05,-0.54],
[-0.05,-0.62,0.4,-0.655,0.8,-0.67,1.1,-0.62,1.1,-0.56,0.95,-0.50,0.6,-0.49,0.3,-0.52,0,-0.56]];
const cWedgeUpper = [-0.5,0.66,-0.1,0.74,0.5,0.83,1.2,0.88,1.4,0.3,0.8,0.27,0.2,0.39,-0.1,0.42,-0.5,0.45];
const cSlitUpper = [-0.1,0.535,0.15,0.565,0.34,0.58,0.34,0.6,0.15,0.585,-0.1,0.56];
const cDashRightUpper = [0.06,0.01,1.36,0.165,2.49,0.30,3.62,0.49,4.47,0.675,4.75,0.795];
const cDashRightLower = [0.06,-0.01,1.36,-0.12,2.77,-0.29,3.62,-0.43,4.47,-0.615,4.74,-0.777];

/* ---------- panel d: vorticity ---------- */
const dVortLevelsUpper = [-0.25,-0.25,-0.75,-1.25,-1.75,-2.25,-2.75,-3.25,-3.75,-4.25];
const dVortLevelsLower = [0.25,0.25,0.75,1.25,1.75,2.25,2.75,3.25,3.75,4.25];
const dVortUpper = [
[0.07,0.93,0.23,0.945,0.79,1.02,1.53,1.055,2.49,1.02,3.06,0.93,3.9,0.82,4.75,0.76,5.32,0.72,5.99,0.65],
[0.07,0.37,0.51,0.345,0.91,0.25,1.36,0.115,1.64,0.10,2.15,0.12,2.49,0.08,3.06,0.08,4.19,0.07,4.47,0.08,5.04,0.08,5.6,0.11,5.99,0.115],
[0.07,0.92,0.79,1.0,1.53,1.03,2.49,0.98,3.06,0.89,3.9,0.76,4.75,0.67,5.04,0.63,5.4,0.52,5.8,0.43,5.92,0.27,5.6,0.15,5.0,0.125,4.5,0.13,4.19,0.115,3.06,0.105,2.49,0.11,2.1,0.135,1.64,0.13,1.3,0.15,0.91,0.27,0.5,0.36,0.07,0.38],
[0.07,0.90,0.79,0.97,1.53,1.0,2.49,0.94,3.06,0.85,3.9,0.69,4.4,0.60,4.6,0.52,4.7,0.39,4.6,0.27,5.0,0.25,5.15,0.16,4.7,0.15,4.5,0.16,4.4,0.24,4.25,0.16,3.9,0.14,3.06,0.15,2.5,0.13,1.9,0.16,1.3,0.18,0.9,0.30,0.5,0.38,0.07,0.40],
[0.07,0.87,0.79,0.93,1.5,0.96,2.49,0.89,3.06,0.79,3.6,0.67,4.1,0.49,3.95,0.36,3.4,0.27,3.06,0.25,2.5,0.2,1.9,0.19,1.3,0.23,0.9,0.33,0.5,0.40,0.07,0.42],
[0.07,0.84,0.79,0.9,1.5,0.92,2.4,0.85,3.0,0.72,3.3,0.60,3.63,0.49,3.4,0.35,3.0,0.29,2.5,0.26,1.9,0.24,1.3,0.27,0.9,0.36,0.5,0.42,0.07,0.44],
[0.07,0.80,0.79,0.86,1.5,0.88,2.3,0.8,2.9,0.65,3.2,0.49,3.06,0.38,2.6,0.30,2.1,0.29,1.4,0.32,0.9,0.39,0.5,0.44,0.07,0.46],
[0.07,0.78,0.79,0.82,1.4,0.83,2.0,0.76,2.6,0.64,2.9,0.49,2.65,0.44,2.5,0.37,2.1,0.35,1.5,0.38,0.9,0.42,0.5,0.46,0.07,0.48],
[0.07,0.76,0.7,0.78,1.3,0.79,1.9,0.7,2.4,0.6,2.45,0.49,2.25,0.45,1.9,0.45,1.0,0.45,0.5,0.48,0.07,0.52],
[0.07,0.73,0.6,0.72,1.6,0.72,1.95,0.62,2.25,0.6,2.15,0.56,1.5,0.56,0.9,0.54,0.6,0.53,0.07,0.56]];
const dVortLower = [
[0.07,-0.92,0.23,-0.935,0.79,-1.03,1.53,-1.065,2.49,-1.03,3.06,-0.94,3.9,-0.82,4.75,-0.75,5.32,-0.72,5.99,-0.65],
[0.07,-0.37,0.51,-0.345,0.91,-0.22,1.36,-0.115,1.64,-0.10,2.15,-0.12,2.49,-0.08,3.06,-0.08,4.19,-0.07,4.47,-0.08,5.04,-0.08,5.6,-0.11,5.99,-0.115],
[0.07,-0.91,0.79,-1.0,1.53,-1.03,2.49,-0.98,3.06,-0.89,3.9,-0.76,4.75,-0.67,5.04,-0.63,5.4,-0.52,5.8,-0.43,5.92,-0.27,5.6,-0.15,5.0,-0.125,4.5,-0.13,4.19,-0.115,3.06,-0.105,2.49,-0.11,2.1,-0.135,1.64,-0.13,1.3,-0.15,0.91,-0.27,0.5,-0.36,0.07,-0.38],
[0.07,-0.89,0.79,-0.97,1.53,-1.0,2.49,-0.94,3.06,-0.85,3.9,-0.69,4.4,-0.60,4.6,-0.52,4.7,-0.39,4.6,-0.27,5.0,-0.25,5.15,-0.16,4.7,-0.15,4.5,-0.16,4.4,-0.24,4.25,-0.16,3.9,-0.14,3.06,-0.15,2.5,-0.13,1.9,-0.16,1.3,-0.18,0.9,-0.30,0.5,-0.38,0.07,-0.40],
[0.07,-0.87,0.79,-0.93,1.5,-0.96,2.49,-0.89,3.06,-0.79,3.6,-0.67,4.1,-0.49,3.95,-0.36,3.4,-0.27,3.06,-0.25,2.5,-0.2,1.9,-0.19,1.3,-0.23,0.9,-0.33,0.5,-0.40,0.07,-0.42],
[0.07,-0.84,0.79,-0.9,1.5,-0.92,2.4,-0.85,3.0,-0.72,3.3,-0.60,3.63,-0.49,3.4,-0.35,3.0,-0.29,2.5,-0.26,1.9,-0.24,1.3,-0.27,0.9,-0.36,0.5,-0.42,0.07,-0.44],
[0.07,-0.80,0.79,-0.86,1.5,-0.88,2.3,-0.8,2.9,-0.65,3.2,-0.49,3.06,-0.38,2.6,-0.30,2.1,-0.29,1.4,-0.32,0.9,-0.39,0.5,-0.44,0.07,-0.46],
[0.07,-0.78,0.79,-0.82,1.4,-0.83,2.0,-0.76,2.6,-0.64,2.9,-0.49,2.65,-0.44,2.5,-0.37,2.1,-0.35,1.5,-0.38,0.9,-0.42,0.5,-0.46,0.07,-0.48],
[0.07,-0.76,0.7,-0.78,1.3,-0.79,1.9,-0.7,2.4,-0.6,2.45,-0.49,2.25,-0.45,1.9,-0.45,1.0,-0.45,0.5,-0.48,0.07,-0.52],
[0.07,-0.73,0.6,-0.72,1.6,-0.72,1.95,-0.62,2.25,-0.6,2.15,-0.56,1.5,-0.56,0.9,-0.54,0.6,-0.53,0.07,-0.56]];
const dWedgeUpper = [0.07,0.92,0.7,0.97,1.2,0.96,1.3,0.22,0.9,0.28,0.5,0.37,0.07,0.39];
const dSlitUpper = [0.07,0.705,0.55,0.705,0.7,0.66,0.42,0.6,0.07,0.61];

/* ---------- drawing helpers ---------- */
const SVGNS = "http://www.w3.org/2000/svg";
const plots = document.getElementById("plots");
const defs = document.getElementById("defs");
const X_UNIT = 88, Y_UNIT = 98.25;
const rowCentres = [214.2,718.8,1223,1727.8];
const colZero = [168.4,929.5];
let uid = 0;

function mk(tag, attrs, parent){
  const el = document.createElementNS(SVGNS, tag);
  for (const k in attrs) el.setAttribute(k, attrs[k]);
  parent.appendChild(el);
  return el;
}
function hexToRgb(h){ return [parseInt(h.slice(1,3),16),parseInt(h.slice(3,5),16),parseInt(h.slice(5,7),16)]; }
function scaleColor(vals, cols, v){
  if (v >= vals[0]) return cols[0];
  for (let i=1;i<vals.length;i++){
    if (v >= vals[i]){
      const t=(v-vals[i])/(vals[i-1]-vals[i]);
      const a=hexToRgb(cols[i]), b=hexToRgb(cols[i-1]);
      return "rgb("+Math.round(a[0]+(b[0]-a[0])*t)+","+Math.round(a[1]+(b[1]-a[1])*t)+","+Math.round(a[2]+(b[2]-a[2])*t)+")";
    }
  }
  return cols[cols.length-1];
}
const uColor = v => scaleColor(uScaleValues,uScaleColors,v);
const wColor = v => scaleColor(wScaleValues,wScaleColors,v);
function lerpList(list,t){
  if (list.length===1) return list[0];
  const p=t*(list.length-1), i=Math.min(Math.floor(p),list.length-2), f=p-i;
  return list[i]+(list[i+1]-list[i])*f;
}
function makeAxes(col,row){
  const x0=colZero[col], y0=rowCentres[row];
  return {sx:x=>x0+X_UNIT*x, sy:y=>y0-Y_UNIT*y, left:x0-0.5*X_UNIT, right:x0+6*X_UNIT, top:y0-2*Y_UNIT, bottom:y0+2*Y_UNIT};
}
function flatToPairs(f){ const r=[]; for(let i=0;i<f.length;i+=2) r.push([f[i],f[i+1]]); return r; }
function segPath(P,i){
  const p0=P[Math.max(i-1,0)],p1=P[i],p2=P[i+1],p3=P[Math.min(i+2,P.length-1)];
  const c1x=p1[0]+(p2[0]-p0[0])/6,c1y=p1[1]+(p2[1]-p0[1])/6,c2x=p2[0]-(p3[0]-p1[0])/6,c2y=p2[1]-(p3[1]-p1[1])/6;
  return " C"+c1x.toFixed(1)+" "+c1y.toFixed(1)+" "+c2x.toFixed(1)+" "+c2y.toFixed(1)+" "+p2[0].toFixed(1)+" "+p2[1].toFixed(1);
}
function fullPath(P){
  let d="M"+P[0][0].toFixed(1)+" "+P[0][1].toFixed(1);
  for(let i=0;i<P.length-1;i++) d+=segPath(P,i);
  return d;
}
function drawArrow(parent,P,i,color){
  const a=P[Math.max(i-1,0)],b=P[Math.min(i+1,P.length-1)],c=P[i];
  const ang=Math.atan2(b[1]-a[1],b[0]-a[0]);
  const L=3.8,W=3,ca=Math.cos(ang),sa=Math.sin(ang);
  const pts=[[c[0]+L*ca,c[1]+L*sa],[c[0]-L*ca-W*sa,c[1]-L*sa+W*ca],[c[0]-L*ca+W*sa,c[1]-L*sa-W*ca]];
  const el=mk("polygon",{points:pts.map(p=>p[0].toFixed(1)+","+p[1].toFixed(1)).join(" "),fill:color},parent);
  
  
}
function drawCurve(parent,pts,us,width,arrowIdx,name){
  const g=mk("g",{},parent);
  
  
  const n=pts.length;
  for(let i=0;i<n-1;i++){
    const t=(i+0.5)/Math.max(n-1,1);
    const d="M"+pts[i][0].toFixed(1)+" "+pts[i][1].toFixed(1)+segPath(pts,i);
    const seg=mk("path",{d:d,fill:"none",stroke:uColor(lerpList(us,t)),"stroke-width":width,"stroke-linecap":"round"},g);
    
    
  }
  arrowIdx.forEach(i=>{ if(i>=0&&i<n) drawArrow(g,pts,i,uColor(lerpList(us,i/Math.max(n-1,1)))); });
}
function drawFamily(parent,ax,stations,lines,u0,u1,label){
  lines.forEach((ln,k)=>{
    const pts=stations.map((x,i)=>[ax.sx(x),ax.sy(ln[i])]);
    const arrows=[]; for(let i=1;i<stations.length-1;i++) arrows.push(i);
    drawCurve(parent,pts,[u0[k],u1[k]],2.1,arrows,label);
  });
}
function drawVortexCurves(parent,ax,curves,curveU,widths){
  curves.forEach((flat,k)=>{
    const pts=flatToPairs(flat).map(p=>[ax.sx(p[0]),ax.sy(p[1])]);
    const arrows=[]; for(let i=2;i<pts.length-1;i+=4) arrows.push(i);
    drawCurve(parent,pts,curveU[k],widths[k],arrows,'recirculation-streamline');
  });
}
function drawContours(parent,ax,list,levels,name){
  list.forEach((flat,k)=>{
    const pts=flatToPairs(flat).map(p=>[ax.sx(p[0]),ax.sy(p[1])]);
    const el=mk("path",{d:fullPath(pts),fill:"none",stroke:wColor(levels[k]),"stroke-width":k<2?2.2:1.9,"stroke-linejoin":"round"},parent);
    
    
  });
}
function drawWedge(parent,ax,flat,sign,fade0,fade1){
  const id=++uid;
  const gr=mk("linearGradient",{id:"wg"+id,x1:0,y1:0,x2:0,y2:1},defs);
  const stops = sign>0 ? ["#00ff60","#00e8ff","#0040ff","#00e8ff","#00ff60"] : ["#90ff00","#ffe000","#ff2000","#ffe000","#90ff00"];
  [0,0.16,0.5,0.84,1].forEach((o,i)=>mk("stop",{offset:o,"stop-color":stops[i]},gr));
  const fg=mk("linearGradient",{id:"fg"+id,gradientUnits:"userSpaceOnUse",x1:ax.sx(fade0),y1:0,x2:ax.sx(fade1),y2:0},defs);
  mk("stop",{offset:0,"stop-color":"#fff"},fg);
  mk("stop",{offset:1,"stop-color":"#000"},fg);
  const m=mk("mask",{id:"wm"+id,maskUnits:"userSpaceOnUse",x:0,y:0,width:1581,height:2023},defs);
  mk("rect",{x:0,y:0,width:1581,height:2023,fill:"url(#fg"+id+")"},m);
  const pts=flatToPairs(flat).map(p=>[ax.sx(p[0]),ax.sy(p[1])]);
  const el=mk("path",{d:fullPath(pts)+"Z",fill:"url(#wg"+id+")",mask:"url(#wm"+id+")"},parent);
  
  
}
function drawSlit(parent,ax,flat,sign){
  const pts=flatToPairs(flat).map(p=>[ax.sx(p[0]),ax.sy(sign*p[1])]);
  const el=mk("polygon",{points:pts.map(p=>p[0].toFixed(1)+","+p[1].toFixed(1)).join(" "),fill:"#fff"},parent);
  
  
}
function drawDash(parent,ax,flat){
  const pts=flatToPairs(flat).map(p=>[ax.sx(p[0]),ax.sy(p[1])]);
  const el=mk("path",{d:fullPath(pts),fill:"none",stroke:"#000","stroke-width":4.6,"stroke-dasharray":"11 6"},parent);
  
  
}
function drawPlate(parent,ax,f){
  const el=mk("line",{x1:ax.sx(f[0]),y1:ax.sy(f[1]),x2:ax.sx(f[2]),y2:ax.sy(f[3]),stroke:"#000","stroke-width":3.6},parent);
  
  
}
function drawFrame(root,ax){
  const g=mk("g",{},root);
  
  
  function ln(x1,y1,x2,y2,w,name){
    const el=mk("line",{x1:x1,y1:y1,x2:x2,y2:y2,stroke:"#000","stroke-width":w},g);
    
    
  }
  ln(ax.left,ax.top,ax.right,ax.top,2,'frame-top');
  ln(ax.left,ax.bottom,ax.right,ax.bottom,2,'frame-bottom');
  ln(ax.left,ax.top-1,ax.left,ax.bottom+1,2,'frame-left');
  ln(ax.right,ax.top-1,ax.right,ax.bottom+1,2,'frame-right');
  for(let i=-2;i<=29;i++){
    const v=i*0.2, X=ax.sx(v);
    if(i%5===0) continue;
    ln(X,ax.top,X,ax.top+8,1.5,'x-minor-tick');
    ln(X,ax.bottom,X,ax.bottom-8,1.5,'x-minor-tick');
  }
  xTickValues.forEach((v,i)=>{
    const X=ax.sx(v);
    ln(X,ax.top,X,ax.top+12,3,'x-major-tick');
    ln(X,ax.bottom,X,ax.bottom-12,3,'x-major-tick');
    const t=mk("text",{x:X-0.55*v,y:ax.bottom+39,"text-anchor":"middle","font-size":33},g);
    
    
    t.textContent=xTickLabels[i];
  });
  for(let i=-9;i<=9;i++){
    if(i%5===0) continue;
    const Y=ax.sy(i*0.2);
    ln(ax.left,Y,ax.left+8,Y,1.5,'y-minor-tick');
    ln(ax.right,Y,ax.right-8,Y,1.5,'y-minor-tick');
  }
  yTickValues.forEach((v,i)=>{
    const Y=ax.sy(v);
    ln(ax.left,Y,ax.left+13,Y,3,'y-major-tick');
    ln(ax.right,Y,ax.right-13,Y,3,'y-major-tick');
    const t=mk("text",{x:ax.left-14,y:Y+10,"text-anchor":"end","font-size":33},g);
    
    
    t.textContent=yTickLabels[i];
  });
}
function startPlot(col,row,name){
  const ax=makeAxes(col,row);
  const id="clip"+col+"_"+row;
  const cp=mk("clipPath",{id:id},defs);
  mk("rect",{x:ax.left,y:ax.top,width:ax.right-ax.left,height:ax.bottom-ax.top},cp);
  const outer=mk("g",{},plots);
  
  
  const clipped=mk("g",{"clip-path":"url(#"+id+")"},outer);
  
  
  return {ax,outer,clipped};
}
function finishPlot(P,dot){
  const ax=P.ax;
  const cyl=mk("circle",{cx:ax.sx(-0.5),cy:ax.sy(0),r:48.2,fill:"#000"},P.clipped);
  
  
  const d=mk("ellipse",{cx:ax.sx(dot[0]),cy:ax.sy(dot[1]),rx:5,ry:5.4,fill:"#000"},P.clipped);
  
  
  drawFrame(P.outer,ax);
}

/* ---------- panel assembly ---------- */
(function(){
  let P;
  /* row a */
  P=startPlot(0,0,'velocity-panel-a');
  drawFamily(P.clipped,P.ax,aStations,aUpper,aUpperStartU,aUpperEndU,'streamline-upper');
  drawFamily(P.clipped,P.ax,aStations,aLower,aUpperStartU,aUpperEndU,'streamline-lower');
  drawVortexCurves(P.clipped,P.ax,aCurves,aCurveU,aCurveWidths);
  finishPlot(P,saddleLeft[0]);
  P=startPlot(1,0,'vorticity-panel-a');
  drawWedge(P.clipped,P.ax,aWedgeUpper,1,0.22,0.62);
  drawWedge(P.clipped,P.ax,aWedgeUpper.map((v,i)=>i%2?-v:v),-1,0.22,0.62);
  drawContours(P.clipped,P.ax,aVortUpper,aNegLevels,'vorticity-contour-upper');
  drawContours(P.clipped,P.ax,aVortLower,aPosLevels,'vorticity-contour-lower');
  drawSlit(P.clipped,P.ax,aSlitUpper,1);
  drawSlit(P.clipped,P.ax,aSlitUpper,-1);
  finishPlot(P,saddleRight[0]);
  /* row b */
  P=startPlot(0,1,'velocity-panel-b');
  drawFamily(P.clipped,P.ax,bStations,bUpper,bUpperStartU,bUpperEndU,'streamline-upper');
  drawFamily(P.clipped,P.ax,bStations,bLower,bLowerStartU,bLowerEndU,'streamline-lower');
  drawVortexCurves(P.clipped,P.ax,bCurves,bCurveU,bCurveWidths);
  drawDash(P.clipped,P.ax,bDashUpper);
  drawDash(P.clipped,P.ax,bDashLower);
  finishPlot(P,saddleLeft[1]);
  P=startPlot(1,1,'vorticity-panel-b');
  drawWedge(P.clipped,P.ax,bWedgeUpper,1,0.5,1.1);
  drawWedge(P.clipped,P.ax,bWedgeUpper.map((v,i)=>i%2?-v:v),-1,0.5,1.1);
  drawContours(P.clipped,P.ax,bVortUpper,negLevels,'vorticity-contour-upper');
  drawContours(P.clipped,P.ax,bVortLower,posLevels,'vorticity-contour-lower');
  drawSlit(P.clipped,P.ax,bSlitUpper,1);
  drawSlit(P.clipped,P.ax,bSlitUpper,-1);
  drawDash(P.clipped,P.ax,bDashRightUpper);
  drawDash(P.clipped,P.ax,bDashRightLower);
  finishPlot(P,saddleRight[1]);
  /* row c */
  P=startPlot(0,2,'velocity-panel-c');
  drawFamily(P.clipped,P.ax,cStations,cUpper,cUpperStartU,cUpperEndU,'streamline-upper');
  drawFamily(P.clipped,P.ax,cStations,cLower,cUpperStartU,cUpperEndU,'streamline-lower');
  drawVortexCurves(P.clipped,P.ax,cCurves,cCurveU,cCurveWidths);
  drawDash(P.clipped,P.ax,cDashUpper);
  drawDash(P.clipped,P.ax,cDashLower);
  finishPlot(P,saddleLeft[2]);
  P=startPlot(1,2,'vorticity-panel-c');
  drawWedge(P.clipped,P.ax,cWedgeUpper,1,0.25,1.05);
  drawWedge(P.clipped,P.ax,cWedgeUpper.map((v,i)=>i%2?-v:v),-1,0.25,1.05);
  drawContours(P.clipped,P.ax,cVortUpper,negLevels,'vorticity-contour-upper');
  drawContours(P.clipped,P.ax,cVortLower,posLevels,'vorticity-contour-lower');
  drawSlit(P.clipped,P.ax,cSlitUpper,1);
  drawSlit(P.clipped,P.ax,cSlitUpper,-1);
  drawDash(P.clipped,P.ax,cDashRightUpper);
  drawDash(P.clipped,P.ax,cDashRightLower);
  finishPlot(P,saddleRight[2]);
  /* row d */
  P=startPlot(0,3,'velocity-panel-d');
  drawFamily(P.clipped,P.ax,dStations,dUpper,dUpperStartU,dUpperEndU,'streamline-upper');
  drawFamily(P.clipped,P.ax,dStations,dLower,dLowerStartU,dLowerEndU,'streamline-lower');
  drawVortexCurves(P.clipped,P.ax,dCurves,dCurveU,dCurveWidths);
  drawPlate(P.clipped,P.ax,dPlateLeft);
  finishPlot(P,saddleLeft[3]);
  P=startPlot(1,3,'vorticity-panel-d');
  drawWedge(P.clipped,P.ax,dWedgeUpper,1,0.3,0.95);
  drawWedge(P.clipped,P.ax,dWedgeUpper.map((v,i)=>i%2?-v:v),-1,0.3,0.95);
  drawContours(P.clipped,P.ax,dVortUpper,dVortLevelsUpper,'vorticity-contour-upper');
  drawContours(P.clipped,P.ax,dVortLower,dVortLevelsLower,'vorticity-contour-lower');
  drawSlit(P.clipped,P.ax,dSlitUpper,1);
  drawSlit(P.clipped,P.ax,dSlitUpper,-1);
  drawPlate(P.clipped,P.ax,dPlateRight);
  finishPlot(P,saddleRight[3]);
})();

/* ---------- colour bars ---------- */
(function(){
  const gu=mk("g",{},plots);
  
  
  const uBar=v=>193-70.4*v;
  const uH=202/uBarBands.length;
  uBarBands.forEach((v,i)=>{
    const r=mk("rect",{x:714,y:92+i*uH,width:30,height:uH+0.6,fill:uColor(v)},gu);
    
    
  });
  uBarLabels.forEach((s,i)=>{
    const t=mk("text",{x:758,y:uBar(uBarLabelValues[i])+12,"font-size":34},gu);
    
    
    t.textContent=s;
  });
  const gw=mk("g",{},plots);
  
  
  const wH=265/wBarBands.length;
  wBarBands.forEach((v,i)=>{
    const r=mk("rect",{x:1464,y:93+i*wH,width:29.5,height:wH+0.6,fill:wColor(v)},gw);
    
    
  });
  wBarLabels.forEach((s,i)=>{
    const t=mk("text",{x:1506,y:100+i*28.2+12,"font-size":33},gw);
    
    
    t.textContent=s;
  });
})();
</script>
</body>
</html>
